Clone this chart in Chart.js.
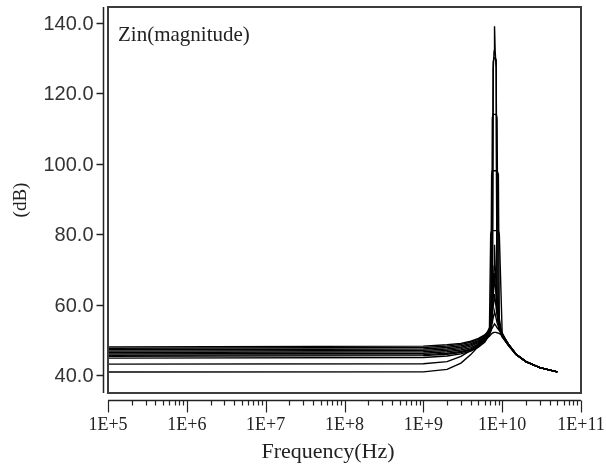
<!DOCTYPE html>
<html>
<head>
<meta charset="utf-8">
<script src="https://cdn.jsdelivr.net/npm/chart.js@4.4.1/dist/chart.umd.min.js"></script>
<style>
  html, body { margin: 0; padding: 0; background: #fff; }
  canvas { display: block; }
</style>
</head>
<body>
<canvas id="zinChart" width="606" height="468"></canvas>
<script>
// Frequency sweep points (Hz), denser around the resonance
const FREQ = [1e5, 1e9, 2e9, 3e9, 4e9, 5e9, 6e9, 6.9e9, 7.15e9, 7.35e9, 7.5e9, 7.7e9, 7.9e9, 8e9,
              8.15e9, 8.4e9, 8.6e9, 8.95e9, 9.2e9, 1e10, 1.2e10, 1.5e10, 2e10, 3e10, 5e10];

// |Zin| in dB, one array per swept curve
const ZIN_1  = [48.0, 48.2, 48.6, 49.0, 49.6, 50.4, 51.4, 52.8, 54.0, 55.5, 58.0, 127.0, 132.0, 139.0, 132.0, 127.0, 59.0, 54.5, 53.0, 50.8, 48.4, 45.8, 43.8, 42.1, 40.9];
const ZIN_2  = [47.6, 47.8, 48.2, 48.7, 49.3, 50.1, 51.2, 52.6, 53.8, 55.5, 59.0, 129.0, 130.0, 130.0, 130.0, 129.5, 60.0, 55.0, 53.2, 50.9, 48.5, 45.8, 43.8, 42.1, 40.9];
const ZIN_3  = [47.2, 47.4, 47.8, 48.3, 48.9, 49.8, 51.0, 52.5, 54.0, 57.5, 113.0, 114.0, 114.0, 114.0, 114.0, 114.0, 113.0, 58.0, 54.0, 51.0, 48.5, 45.8, 43.8, 42.1, 40.9];
const ZIN_4  = [46.8, 47.0, 47.4, 47.9, 48.6, 49.5, 50.8, 52.3, 55.5, 97.0, 98.0, 98.0, 98.0, 98.0, 98.0, 98.0, 98.0, 97.0, 56.0, 51.2, 48.6, 45.9, 43.8, 42.1, 40.9];
const ZIN_5  = [46.4, 46.6, 47.0, 47.5, 48.2, 49.2, 50.5, 53.5, 80.0, 81.0, 81.0, 81.0, 81.0, 81.0, 81.0, 81.0, 81.0, 81.0, 80.0, 52.0, 48.6, 45.9, 43.8, 42.1, 40.9];
const ZIN_6  = [46.0, 46.2, 46.6, 47.1, 47.8, 48.8, 50.2, 52.2, 54.0, 57.0, 60.0, 65.0, 71.0, 77.0, 71.0, 65.0, 61.0, 57.0, 54.5, 51.3, 48.7, 45.9, 43.8, 42.1, 40.9];
const ZIN_7  = [45.6, 45.8, 46.2, 46.7, 47.4, 48.5, 49.9, 52.0, 53.5, 56.0, 58.5, 62.0, 66.0, 69.0, 66.0, 62.0, 59.0, 56.0, 54.0, 51.4, 48.7, 45.9, 43.8, 42.1, 40.9];
const ZIN_8  = [45.3, 45.5, 45.9, 46.4, 47.1, 48.2, 49.6, 51.8, 53.0, 55.0, 57.0, 59.5, 61.5, 63.0, 61.5, 59.0, 57.0, 55.0, 53.6, 51.5, 48.8, 45.9, 43.8, 42.1, 40.9];
const ZIN_9  = [44.8, 45.0, 45.4, 46.0, 46.8, 47.9, 49.3, 51.4, 52.5, 53.8, 55.0, 56.3, 57.3, 58.0, 57.3, 56.0, 55.0, 53.8, 53.0, 51.6, 48.8, 45.9, 43.8, 42.1, 40.9];
const ZIN_10 = [43.1, 43.2, 43.8, 45.3, 47.0, 48.9, 50.5, 51.8, 52.4, 53.0, 53.4, 53.9, 54.3, 54.5, 54.3, 53.9, 53.5, 53.0, 52.6, 51.6, 48.8, 45.9, 43.8, 42.1, 40.9];
const ZIN_11 = [40.85, 40.9, 41.6, 43.4, 45.8, 48.2, 50.0, 51.0, 51.4, 51.7, 51.9, 52.0, 52.1, 52.1, 52.1, 52.1, 52.0, 51.9, 51.8, 51.2, 48.8, 45.9, 43.8, 42.1, 40.9];

const SERIES = [ZIN_1, ZIN_2, ZIN_3, ZIN_4, ZIN_5, ZIN_6, ZIN_7, ZIN_8, ZIN_9, ZIN_10, ZIN_11];

// Axis ticks
const X_TICKS = [1e5, 1e6, 1e7, 1e8, 1e9, 1e10, 1e11];
const X_TICK_LABELS = ['1E+5', '1E+6', '1E+7', '1E+8', '1E+9', '1E+10', '1E+11'];
const X_MINOR_STEPS = [2, 3, 4, 5, 6, 7, 8, 9];
const Y_TICKS = [40, 60, 80, 100, 120, 140];

const SERIF = "'Liberation Serif', 'Times New Roman', serif";
const SANS  = "'Liberation Sans', Arial, sans-serif";

// Frame, offset axes, tick marks and all labels
const axesPlugin = {
  id: 'zinAxes',
  beforeDraw(chart) {
    const { ctx, width, height } = chart;
    ctx.save();
    ctx.fillStyle = '#fff';
    ctx.fillRect(0, 0, width, height);
    ctx.restore();
  },
  afterDraw(chart) {
    const { ctx, chartArea: a, scales: { x, y } } = chart;
    ctx.save();

    const line = (x1, y1, x2, y2) => {
      ctx.beginPath();
      ctx.moveTo(x1, y1);
      ctx.lineTo(x2, y2);
      ctx.stroke();
    };

    // plot frame
    ctx.strokeStyle = '#3c3c3c';
    ctx.lineWidth = 2;
    ctx.strokeRect(a.left, a.top, a.right - a.left, a.bottom - a.top);

    // y axis (sits a few px left of the frame)
    const yAxisX = a.left - 4.5;
    ctx.strokeStyle = '#222';
    ctx.lineWidth = 1.5;
    line(yAxisX, a.top, yAxisX, a.bottom);
    ctx.fillStyle = '#333';
    ctx.font = '20px ' + SANS;
    ctx.textAlign = 'right';
    ctx.textBaseline = 'middle';
    Y_TICKS.forEach(v => {
      const py = Math.round(y.getPixelForValue(v)) + 0.5;
      line(yAxisX - 7, py, yAxisX, py);
      ctx.fillText(v.toFixed(1), yAxisX - 10, py + 1);
    });

    // x axis (below the frame, ticks hanging down)
    const xAxisY = a.bottom + 7.5;
    line(a.left, xAxisY, a.right, xAxisY);
    ctx.lineWidth = 1.2;
    X_TICKS.forEach((v, i) => {
      const px = Math.round(x.getPixelForValue(v)) + 0.5;
      line(px, xAxisY, px, xAxisY + 12);
      if (i < X_TICKS.length - 1) {
        X_MINOR_STEPS.forEach(m => {
          const mx = Math.round(x.getPixelForValue(v * m)) + 0.5;
          line(mx, xAxisY, mx, xAxisY + 5);
        });
      }
    });
    ctx.fillStyle = '#222';
    ctx.font = '18px ' + SERIF;
    ctx.textAlign = 'center';
    ctx.textBaseline = 'middle';
    X_TICK_LABELS.forEach((lbl, i) => {
      ctx.fillText(lbl, x.getPixelForValue(X_TICKS[i]), a.bottom + 32);
    });

    // axis titles
    ctx.font = '22px ' + SERIF;
    ctx.fillText('Frequency(Hz)', 328, 452);
    ctx.save();
    ctx.translate(21, 200);
    ctx.rotate(-Math.PI / 2);
    ctx.font = '19px ' + SERIF;
    ctx.fillText('(dB)', 0, 0);
    ctx.restore();

    // in-plot caption
    ctx.font = '21px ' + SERIF;
    ctx.textAlign = 'left';
    ctx.textBaseline = 'alphabetic';
    ctx.fillText('Zin(magnitude)', a.left + 10, a.top + 34);

    ctx.restore();
  }
};

new Chart(document.getElementById('zinChart'), {
  type: 'line',
  data: {
    datasets: SERIES.map((vals, i) => ({
      label: 'Zin ' + (i + 1),
      data: FREQ.map((f, j) => ({ x: f, y: vals[j] })),
      borderColor: '#000',
      borderWidth: 1.4,
      pointRadius: 0,
      tension: 0,
      fill: false
    }))
  },
  options: {
    responsive: false,
    devicePixelRatio: 1,
    animation: false,
    layout: { padding: { left: 108, top: 7, right: 25, bottom: 75 } },
    plugins: {
      legend: { display: false },
      tooltip: { enabled: false }
    },
    scales: {
      x: { type: 'logarithmic', min: 1e5, max: 1e11, display: false },
      y: { type: 'linear', min: 34.9, max: 144.5, display: false }
    }
  },
  plugins: [axesPlugin]
});
</script>
</body>
</html>
